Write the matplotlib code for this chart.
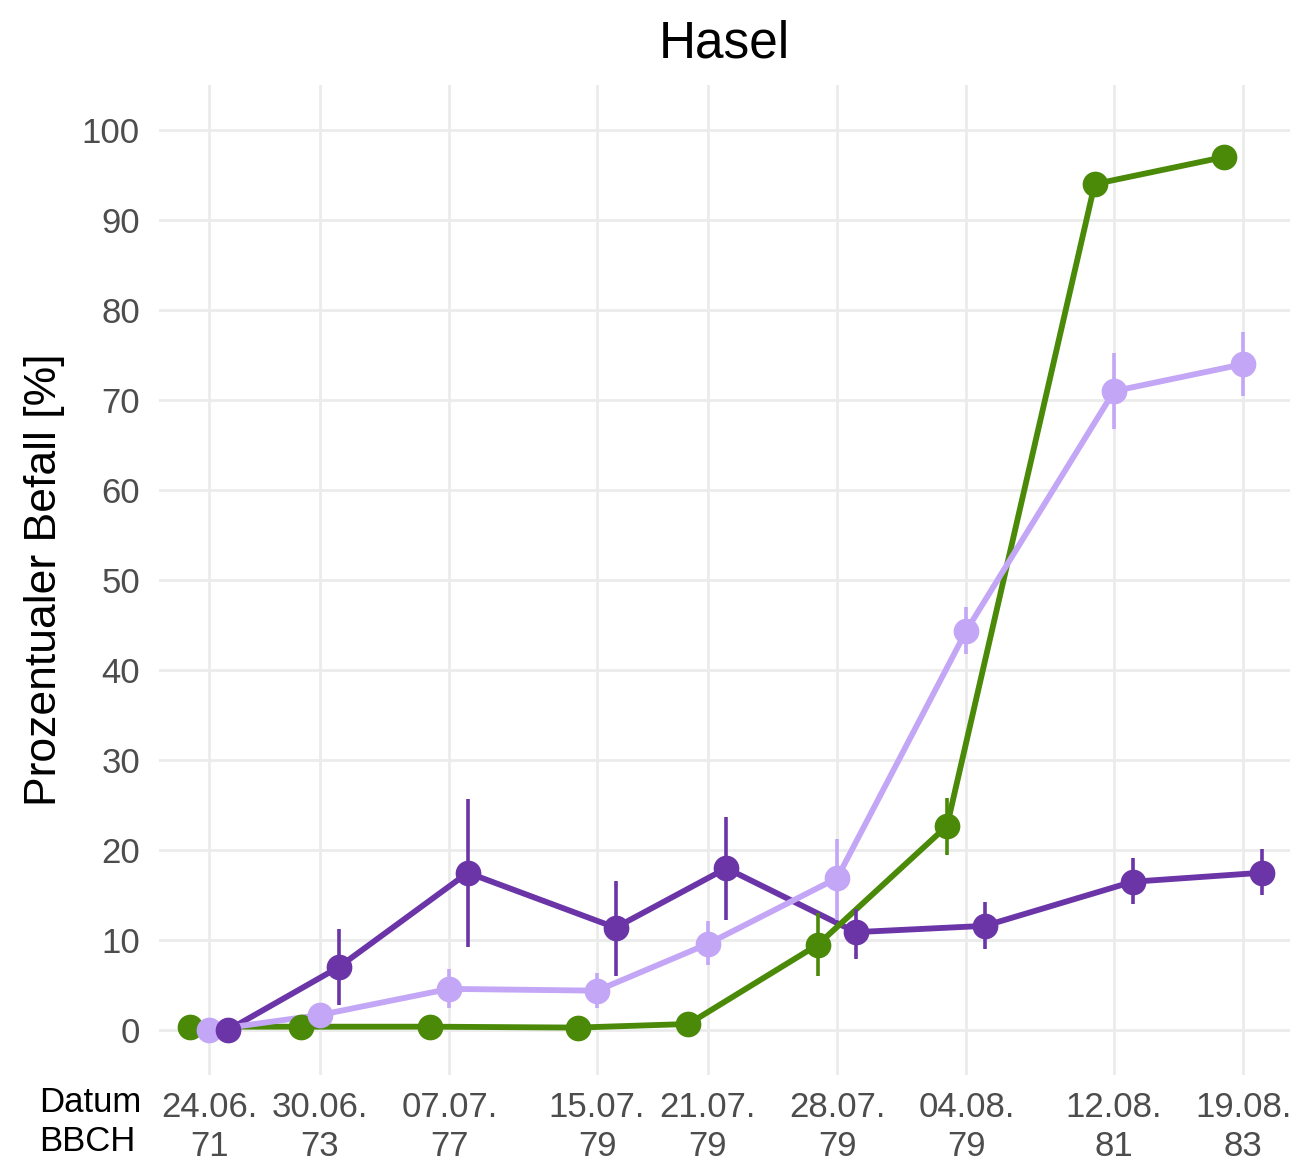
import matplotlib.pyplot as plt
import numpy as np

plt.rcParams['font.family'] = ['Liberation Sans', 'DejaVu Sans']

# Datum (Tage ab 24.06.) und BBCH
tage = [0, 6, 13, 21, 27, 34, 41, 49, 56]
datum = ['24.06.', '30.06.', '07.07.', '15.07.', '21.07.', '28.07.', '04.08.', '12.08.', '19.08.']
bbch = ['71', '73', '77', '79', '79', '79', '79', '81', '83']

# Befall [%] und Fehlerbalken (untere, obere Grenze)
gruen = [0.4, 0.4, 0.4, 0.3, 0.7, 9.5, 22.7, 94.0, 97.0]
gruen_lo = [0.4, 0.4, 0.4, 0.3, 0.7, 6.0, 19.5, 94.0, 97.0]
gruen_hi = [0.4, 0.4, 0.4, 0.3, 0.7, 13.0, 25.8, 94.0, 97.0]

hell = [0.0, 1.7, 4.6, 4.4, 9.6, 16.9, 44.4, 71.0, 74.0]
hell_lo = [0.0, 1.0, 2.5, 2.5, 7.2, 12.2, 41.8, 66.8, 70.5]
hell_hi = [0.0, 2.5, 6.8, 6.4, 12.1, 21.2, 47.0, 75.2, 77.6]

dunkel = [0.0, 7.0, 17.5, 11.4, 18.0, 10.9, 11.6, 16.5, 17.5]
dunkel_lo = [0.0, 2.8, 9.3, 6.0, 12.3, 7.9, 9.0, 14.0, 15.0]
dunkel_hi = [0.0, 11.2, 25.7, 16.6, 23.7, 13.5, 14.2, 19.1, 20.1]

serien = [
    # werte, lo, hi, farbe, versatz, z linie, z punkte
    (dunkel, dunkel_lo, dunkel_hi, '#6b35a8', 1.0, 2, 7),
    (gruen, gruen_lo, gruen_hi, '#4a8a08', -1.05, 3, 5),
    (hell, hell_lo, hell_hi, '#c4a6f6', 0.0, 4, 6),
]

fig = plt.figure(figsize=(12.96, 11.65), dpi=100)
ax = fig.add_axes([0.123, 0.077, 0.872, 0.85])

for werte, lo, hi, farbe, versatz, zl, zp in serien:
    x = np.array(tage) + versatz
    w = np.array(werte)
    ax.plot(x, w, color=farbe, lw=4.2, zorder=zl, solid_capstyle='round')
    ax.vlines(x, lo, hi, color=farbe, lw=2.6, zorder=zp)
    ax.plot(x, w, 'o', color=farbe, ms=17.5, zorder=zp)

ax.set_xlim(-2.7, 58.5)
ax.set_ylim(-5, 105)
ax.set_yticks(range(0, 101, 10))
ax.set_xticks(tage)
ax.set_xticklabels([d + '\n' + b for d, b in zip(datum, bbch)], linespacing=1.25)
ax.tick_params(axis='both', length=0, labelsize=25, labelcolor='#4d4d4d')
ax.tick_params(axis='x', pad=11)
ax.tick_params(axis='y', pad=14)
ax.grid(True, color='#ebebeb', lw=2)
ax.set_axisbelow(True)
for s in ax.spines.values():
    s.set_visible(False)

ax.set_ylabel('Prozentualer Befall [%]', fontsize=32, labelpad=12)
ax.set_title('Hasel', fontsize=37, pad=20)
fig.text(0.03, 0.006, 'Datum\nBBCH', fontsize=25, ha='left', va='bottom', linespacing=1.25)

fig.savefig('out.png', dpi=100, facecolor='white')
